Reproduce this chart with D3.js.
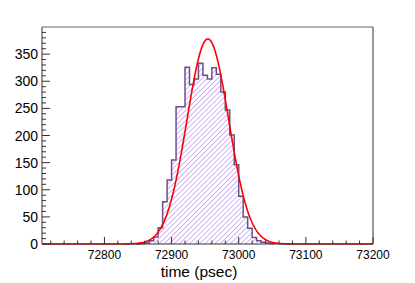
<!DOCTYPE html>
<html>
<head>
<meta charset="utf-8">
<script src="https://cdn.jsdelivr.net/npm/d3@7"></script>
<style>
  body { margin: 0; background: #fff; }
  svg { display: block; font-family: "Liberation Sans", Arial, sans-serif; }
</style>
</head>
<body>
<div id="chart"></div>
<script>
// Histogram data (bins of 20/3 psec starting at firstBinLow)
const firstBinLow = 72706.67 + 21 * (20 / 3);
const binWidth = 20 / 3;
const counts = [0, 1, 2, 6, 13, 30, 78, 118, 155, 253, 253, 326, 294, 304, 333,
    311, 304, 325, 313, 280, 247, 201, 146, 88, 50, 29, 12, 6, 3, 2, 1];

// Gaussian fit parameters
const fitConstant = 378;
const fitMean = 72954;
const fitSigma = 31;

const xTicks = [72800, 72900, 73000, 73100, 73200];
const yTicks = [0, 50, 100, 150, 200, 250, 300, 350];

// Set up dimensions
const width = 415;
const height = 283;
const frame = { left: 42, right: 373, top: 27, bottom: 244 };

const svg = d3.select("#chart")
    .append("svg")
    .attr("width", width)
    .attr("height", height);

const x = d3.scaleLinear().domain([72707, 73200]).range([frame.left, frame.right]);
const y = d3.scaleLinear().domain([0, 400]).range([frame.bottom, frame.top]);

// Hatch pattern
const defs = svg.append("defs");
defs.append("pattern")
    .attr("id", "hatch")
    .attr("patternUnits", "userSpaceOnUse")
    .attr("width", 3.6)
    .attr("height", 3.6)
    .attr("patternTransform", "rotate(45)")
    .append("line")
    .attr("x1", 0).attr("y1", 0)
    .attr("x2", 0).attr("y2", 3.6)
    .attr("stroke", "#bb8cf2")
    .attr("stroke-width", 1.3);

const bins = counts.map((c, i) => ({
    x0: firstBinLow + i * binWidth,
    x1: firstBinLow + (i + 1) * binWidth,
    count: c
}));

// Step outline
const pts = [[x(bins[0].x0), y(0)]];
bins.forEach(b => {
    pts.push([x(b.x0), y(b.count)]);
    pts.push([x(b.x1), y(b.count)]);
});
pts.push([x(bins[bins.length - 1].x1), y(0)]);

svg.append("path")
    .attr("d", d3.line()(pts) + "Z")
    .attr("fill", "url(#hatch)")
    .attr("stroke", "none");

svg.append("path")
    .attr("d", d3.line()(pts))
    .attr("fill", "none")
    .attr("stroke", "#6e4f8e")
    .attr("stroke-width", 1.5);

// Fit curve
const gauss = t => fitConstant * Math.exp(-0.5 * Math.pow((t - fitMean) / fitSigma, 2));
const curve = d3.range(0, 401).map(i => {
    const t = 72707 + i * (73200 - 72707) / 400;
    return [x(t), y(gauss(t))];
});
svg.append("path")
    .attr("d", d3.line()(curve))
    .attr("fill", "none")
    .attr("stroke", "#ff0000")
    .attr("stroke-width", 1.6);

// Frame
svg.append("line")
    .attr("x1", frame.left).attr("x2", frame.right)
    .attr("y1", frame.top).attr("y2", frame.top)
    .attr("stroke", "#999").attr("stroke-width", 1.5);
svg.append("line")
    .attr("x1", frame.right).attr("x2", frame.right)
    .attr("y1", frame.top).attr("y2", frame.bottom)
    .attr("stroke", "#333").attr("stroke-width", 1);

// X axis
const xAxis = svg.append("g").attr("transform", `translate(0, ${frame.bottom})`);
xAxis.append("line")
    .attr("x1", frame.left).attr("x2", frame.right)
    .attr("stroke", "#333");
xAxis.selectAll(".minor")
    .data(d3.range(72720, 73200, 20).filter(t => !xTicks.includes(t)))
    .enter().append("line")
    .attr("x1", d => x(d)).attr("x2", d => x(d))
    .attr("y1", 0).attr("y2", -3.5)
    .attr("stroke", "#333");
xAxis.selectAll(".major")
    .data(xTicks)
    .enter().append("line")
    .attr("x1", d => x(d)).attr("x2", d => x(d))
    .attr("y1", 0).attr("y2", -7)
    .attr("stroke", "#333");
xAxis.selectAll(".xlabel")
    .data(xTicks)
    .enter().append("text")
    .attr("x", d => x(d))
    .attr("y", 14.5)
    .attr("text-anchor", "middle")
    .style("font-size", "12px")
    .text(d => d);

svg.append("text")
    .attr("x", 199)
    .attr("y", 277)
    .attr("text-anchor", "middle")
    .style("font-size", "15.5px")
    .text("time (psec)");

// Y axis
const yAxis = svg.append("g").attr("transform", `translate(${frame.left}, 0)`);
yAxis.append("line")
    .attr("y1", frame.top).attr("y2", frame.bottom)
    .attr("stroke", "#333");
yAxis.selectAll(".minor")
    .data(d3.range(10, 400, 10).filter(v => !yTicks.includes(v)))
    .enter().append("line")
    .attr("y1", d => y(d)).attr("y2", d => y(d))
    .attr("x1", 0).attr("x2", 4)
    .attr("stroke", "#333");
yAxis.selectAll(".major")
    .data(yTicks)
    .enter().append("line")
    .attr("y1", d => y(d)).attr("y2", d => y(d))
    .attr("x1", 0).attr("x2", 8)
    .attr("stroke", "#333");
yAxis.selectAll(".ylabel")
    .data(yTicks)
    .enter().append("text")
    .attr("x", -4)
    .attr("y", d => y(d))
    .attr("dy", "0.36em")
    .attr("text-anchor", "end")
    .style("font-size", "14px")
    .text(d => d);
</script>
</body>
</html>
